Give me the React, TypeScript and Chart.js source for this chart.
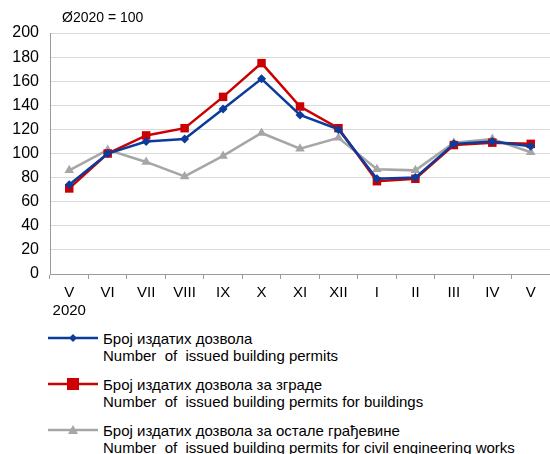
import React, { useEffect, useRef } from "react";
import { Chart, registerables } from "chart.js";

Chart.register(...registerables);

const categories: (string | string[])[] = [["V", "2020"], "VI", "VII", "VIII", "IX", "X", "XI", "XII", "I", "II", "III", "IV", "V"];
const totalPermits = [74, 100, 110, 112, 137, 162, 132, 120, 79, 80, 108, 110, 106];
const buildingPermits = [71, 100, 115, 121, 147, 175, 139, 121, 77, 79, 107, 109, 108];
const civilPermits = [86, 103, 93, 81, 98, 117, 104, 113, 87, 86, 109, 112, 101];

const BLUE = "#0b3c9c";
const RED = "#cc0000";
const GRAY = "#a6a6a6";
const FONT = "'Liberation Sans', Arial, sans-serif";

const legendItems = [
  { color: BLUE, marker: "diamond", sr: "Број издатих дозвола", en: "Number  of  issued building permits" },
  { color: RED, marker: "square", sr: "Број издатих дозвола за зграде", en: "Number  of  issued building permits for buildings" },
  { color: GRAY, marker: "triangle", sr: "Број издатих дозвола за остале грађевине", en: "Number  of  issued building permits for civil engineering works" },
];

function Marker({ type, color }: { type: string; color: string }) {
  if (type === "diamond") return <polygon points="25,3 29,7 25,11 21,7" fill={color} />;
  if (type === "square") return <rect x={19} y={1} width={12} height={12} fill={color} />;
  return <polygon points="25,2 30,11 20,11" fill={color} />;
}

export default function App() {
  const ref = useRef<HTMLCanvasElement>(null);
  useEffect(() => {
    document.body.style.margin = "0";
    const ctx = ref.current!;
    const chart = new Chart(ctx, {
      type: "line",
      data: {
        labels: categories,
        datasets: [
          {
            data: civilPermits,
            borderColor: GRAY,
            backgroundColor: GRAY,
            borderWidth: 2.5,
            pointStyle: "triangle",
            pointRadius: 5.5,
            pointBorderWidth: 0,
            tension: 0,
            order: 3,
          },
          {
            data: buildingPermits,
            borderColor: RED,
            backgroundColor: RED,
            borderWidth: 2.5,
            pointStyle: "rect",
            pointRadius: 6,
            pointBorderWidth: 0,
            tension: 0,
            order: 2,
          },
          {
            data: totalPermits,
            borderColor: BLUE,
            backgroundColor: BLUE,
            borderWidth: 2.5,
            pointStyle: "rectRot",
            pointRadius: 4.5,
            pointBorderWidth: 0,
            tension: 0,
            order: 1,
          },
        ],
      },
      options: {
        responsive: false,
        animation: false,
        layout: { autoPadding: false, padding: { left: 0, right: 0, top: 33, bottom: 0 } },
        plugins: { legend: { display: false }, tooltip: { enabled: false } },
        scales: {
          x: {
            offset: true,
            grid: {
              display: true,
              drawOnChartArea: false,
              drawTicks: true,
              tickLength: 5,
              color: "#9a9a9a",
              offset: true,
            },
            border: { color: "#9a9a9a", width: 1 },
            ticks: {
              color: "#000",
              font: { family: FONT, size: 15 },
              padding: 5,
              maxRotation: 0,
              autoSkip: false,
            },
            afterFit: (s: any) => {
              s.height = 46;
              s.paddingLeft = 0;
              s.paddingRight = 0;
            },
          },
          y: {
            min: 0,
            max: 200,
            ticks: {
              stepSize: 20,
              color: "#000",
              font: { family: FONT, size: 16 },
              padding: 11,
            },
            grid: { color: "#d9d9d9", drawTicks: false },
            border: { color: "#9a9a9a", width: 1 },
            afterFit: (s: any) => {
              s.width = 50;
            },
          },
        },
      },
    });
    return () => chart.destroy();
  }, []);

  return (
    <div style={{ position: "relative", width: 550, height: 454, background: "#fff", overflow: "hidden" }}>
      <canvas ref={ref} width={550} height={320} style={{ position: "absolute", left: 0, top: 0 }} />
      <div
        style={{
          position: "absolute",
          left: 62,
          top: 9,
          fontFamily: FONT,
          fontSize: 14,
          lineHeight: "16px",
          color: "#000",
        }}
      >
        Ø2020 = 100
      </div>
      {legendItems.map((it, i) => (
        <div
          key={i}
          style={{
            position: "absolute",
            left: 48,
            top: 330 + i * 46,
            display: "flex",
            alignItems: "flex-start",
            fontFamily: FONT,
            fontSize: 15,
            lineHeight: "17px",
            color: "#000",
          }}
        >
          <svg width={50} height={14} style={{ marginTop: 1, marginRight: 5 }}>
            <line x1={0} y1={7} x2={50} y2={7} stroke={it.color} strokeWidth={2.5} />
            <Marker type={it.marker} color={it.color} />
          </svg>
          <div>
            <div>{it.sr}</div>
            <div style={{ whiteSpace: "pre" }}>{it.en}</div>
          </div>
        </div>
      ))}
    </div>
  );
}
